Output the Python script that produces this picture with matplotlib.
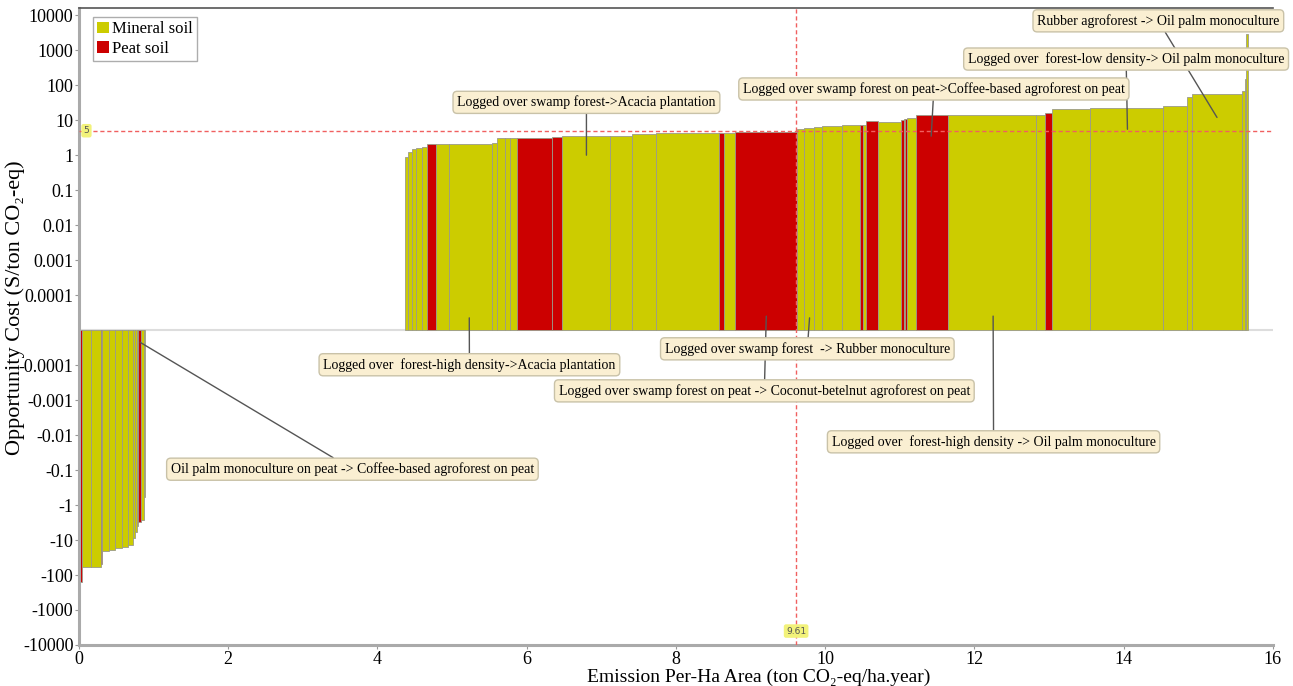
import matplotlib
matplotlib.use("Agg")
import matplotlib.pyplot as plt
from matplotlib.patches import Patch
import numpy as np

# bars: (left edge, right edge, opportunity cost, soil type)  M = mineral, P = peat
neg_bars = [
    (0.00, 0.04, -160, 'P'),
    (0.04, 0.16, -60, 'M'),
    (0.16, 0.29, -58, 'M'),
    (0.29, 0.31, -50, 'P'),
    (0.31, 0.40, -20, 'M'),
    (0.40, 0.48, -19, 'M'),
    (0.48, 0.58, -17, 'M'),
    (0.58, 0.66, -16, 'M'),
    (0.66, 0.72, -14, 'M'),
    (0.72, 0.75, -9, 'M'),
    (0.75, 0.78, -6, 'M'),
    (0.78, 0.79, -4, 'M'),
    (0.79, 0.83, -3.1, 'P'),
    (0.83, 0.87, -2.6, 'M'),
    (0.87, 0.885, -0.6, 'M'),
]
pos_bars = [
    (4.37, 4.41, 0.9, 'M'),
    (4.41, 4.46, 1.2, 'M'),
    (4.46, 4.52, 1.5, 'M'),
    (4.52, 4.60, 1.6, 'M'),
    (4.60, 4.66, 1.7, 'M'),
    (4.66, 4.79, 2.05, 'P'),
    (4.79, 4.96, 2.1, 'M'),
    (4.96, 5.54, 2.15, 'M'),
    (5.54, 5.60, 2.3, 'M'),
    (5.60, 5.71, 3.0, 'M'),
    (5.71, 5.78, 3.1, 'M'),
    (5.78, 5.87, 3.1, 'M'),
    (5.87, 6.34, 3.1, 'P'),
    (6.34, 6.47, 3.4, 'P'),
    (6.47, 7.12, 3.5, 'M'),
    (7.12, 7.41, 3.6, 'M'),
    (7.41, 7.73, 4.0, 'M'),
    (7.73, 8.57, 4.3, 'M'),
    (8.57, 8.65, 4.4, 'P'),
    (8.65, 8.79, 4.4, 'M'),
    (8.79, 9.62, 4.6, 'P'),
    (9.62, 9.72, 5.6, 'M'),
    (9.72, 9.85, 6.0, 'M'),
    (9.85, 9.96, 6.4, 'M'),
    (9.96, 10.23, 7.0, 'M'),
    (10.23, 10.47, 7.2, 'M'),
    (10.47, 10.51, 7.4, 'P'),
    (10.51, 10.54, 7.5, 'M'),
    (10.54, 10.71, 9.5, 'P'),
    (10.71, 11.01, 8.8, 'M'),
    (11.01, 11.05, 10, 'P'),
    (11.05, 11.07, 10.5, 'M'),
    (11.07, 11.10, 11, 'P'),
    (11.10, 11.21, 11.5, 'M'),
    (11.21, 11.64, 14, 'P'),
    (11.64, 12.83, 14, 'M'),
    (12.83, 12.95, 14.5, 'M'),
    (12.95, 13.04, 16, 'P'),
    (13.04, 13.55, 21, 'M'),
    (13.55, 14.52, 23, 'M'),
    (14.52, 14.85, 26, 'M'),
    (14.85, 14.92, 47, 'M'),
    (14.92, 15.59, 55, 'M'),
    (15.59, 15.62, 70, 'M'),
    (15.62, 15.64, 150, 'M'),
    (15.64, 15.67, 2900, 'M'),
]

ytick_vals = [10000, 1000, 100, 10, 1, 0.1, 0.01, 0.001, 0.0001,
              -0.0001, -0.001, -0.01, -0.1, -1, -10, -100, -1000, -10000]
ytick_labels = ['10000', '1000', '100', '10', '1', '0.1', '0.01', '0.001', '0.0001',
                '-0.0001', '-0.001', '-0.01', '-0.1', '-1', '-10', '-100', '-1000', '-10000']
cost_line = 5
emission_line = 9.61

# annotations: label, point on curve (x, y), text centre (axes fraction)
notes = [
    ("Rubber agroforest -> Oil palm monoculture", (15.25, 12), (0.904, 0.980)),
    ("Logged over  forest-low density-> Oil palm monoculture", (14.05, 5.5), (0.877, 0.920)),
    ("Logged over swamp forest on peat->Coffee-based agroforest on peat", (11.42, 3.5), (0.716, 0.873)),
    ("Logged over swamp forest->Acacia plantation", (6.80, 1.0), (0.425, 0.852)),
    ("Logged over  forest-high density->Acacia plantation", (5.23, 3.5e-5), (0.327, 0.440)),
    ("Logged over swamp forest on peat -> Coconut-betelnut agroforest on peat", (9.21, 4e-5), (0.574, 0.399)),
    ("Logged over swamp forest  -> Rubber monoculture", (9.79, 3.5e-5), (0.610, 0.465)),
    ("Logged over  forest-high density -> Oil palm monoculture", (12.25, 4e-5), (0.766, 0.319)),
    ("Oil palm monoculture on peat -> Coffee-based agroforest on peat", (0.82, -3.5e-5), (0.229, 0.276)),
]

colors = {'M': '#CCCC00', 'P': '#CC0000'}

plt.rcParams['font.family'] = ['Liberation Serif', 'DejaVu Serif']

fig = plt.figure(figsize=(12.93, 6.86), dpi=100)
ax = fig.add_axes([0.0611, 0.0598, 0.9234, 0.9284])
ax.set_yscale('symlog', linthresh=1e-4, linscale=0.9)

for left, right, val, soil in neg_bars + pos_bars:
    ax.bar(left, val, width=right - left, align='edge', color=colors[soil],
           edgecolor='#9A9A8A', linewidth=0.6, zorder=2)

ax.axhline(0, color='#DDDDDD', lw=1.5, zorder=1)
ax.axhline(cost_line, color='#F06060', lw=1, ls=(0, (3, 2)), zorder=3)
ax.axvline(emission_line, color='#F06060', lw=1, ls=(0, (3, 2)), zorder=3)

ax.text(0.1, cost_line, '5', fontsize=6.5, family='DejaVu Sans', color='#555555',
        ha='center', va='center', zorder=4,
        bbox=dict(boxstyle='round,pad=0.25', fc='#F2F27A', ec='none'))
ax.text(emission_line, -4000, '9.61', fontsize=6.5, family='DejaVu Sans', color='#555555',
        ha='center', va='center', zorder=4,
        bbox=dict(boxstyle='round,pad=0.25', fc='#F2F27A', ec='none'))

ax.set_xlim(0, 16)
ax.set_ylim(-10000, 16000)
ax.set_yticks(ytick_vals)
ax.set_yticklabels(ytick_labels)
ax.yaxis.set_minor_locator(matplotlib.ticker.NullLocator())
ax.set_xticks(np.arange(0, 17, 2))
ax.tick_params(axis='both', labelsize=13, length=3, color='#999999', pad=1)

for side in ['left', 'bottom']:
    ax.spines[side].set_color('#AAAAAA')
    ax.spines[side].set_linewidth(2.2)
ax.spines['top'].set_color('#555555')
ax.spines['top'].set_linewidth(1.2)
ax.spines['right'].set_visible(False)

ax.set_xlabel('Emission Per-Ha Area (ton CO\u2082-eq/ha.year)', fontsize=14, va='baseline')
ax.xaxis.set_label_coords(0.569, -0.0575)
ax.set_ylabel('Opportunity Cost (S/ton CO\u2082-eq)', fontsize=16)
ax.yaxis.set_label_coords(-0.0455, 0.529)

for label, xy, xytext in notes:
    ax.annotate(label, xy=xy, xycoords='data', xytext=xytext, textcoords='axes fraction',
                fontsize=10, ha='center', va='center', zorder=6,
                bbox=dict(boxstyle='round,pad=0.3', fc='#FAEFD2', ec='#C9C2A8', lw=1),
                arrowprops=dict(arrowstyle='-', color='#555555', lw=1, shrinkA=0, shrinkB=0))

handles = [Patch(fc=colors['M'], ec='none', label='Mineral soil'),
           Patch(fc=colors['P'], ec='none', label='Peat soil')]
leg = ax.legend(handles=handles, loc='upper left', bbox_to_anchor=(0.0117, 0.986),
                fontsize=12, frameon=True, fancybox=False, edgecolor='#999999',
                handlelength=0.7, handleheight=0.7, handletextpad=0.2,
                borderpad=0.25, labelspacing=0.2, borderaxespad=0)
leg.get_frame().set_linewidth(1)

fig.savefig('out.png', dpi=100)
